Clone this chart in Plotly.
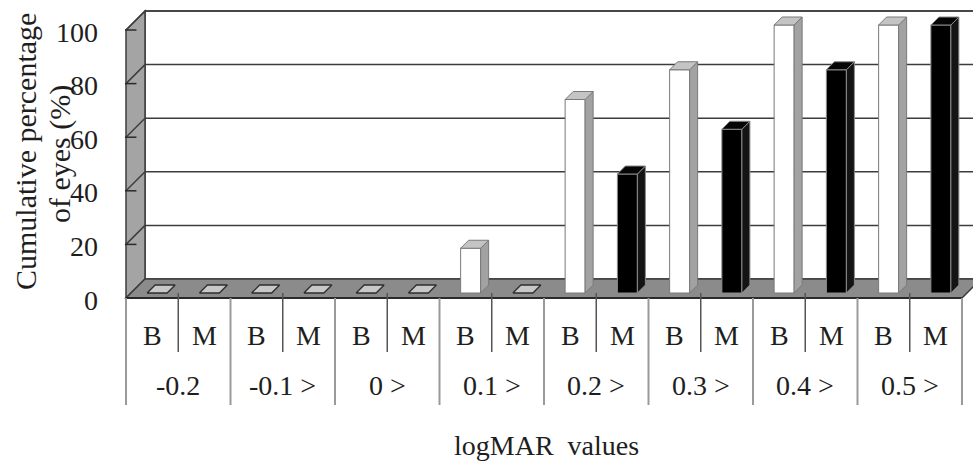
import plotly.graph_objects as go

# ---- data -------------------------------------------------------------
groups = ["-0.2", "-0.1 >", "0 >", "0.1 >", "0.2 >", "0.3 >", "0.4 >", "0.5 >"]
series_names = ["B", "M"]
b_values = [0, 0, 0, 16.7, 72.2, 83.3, 100, 100]
m_values = [0, 0, 0, 0, 44.4, 61.1, 83.3, 100]
y_ticks = [0, 20, 40, 60, 80, 100]
y_max = 100
y_title_lines = ["Cumulative percentage", "of eyes (%)"]
x_title = "logMAR  values"

# ---- geometry of the pseudo-3D box (slot units on x, value units on y) --
W, H = 973, 462
X0, SLOT = 126, 52.25          # px of slot 0 and slot width
Y0, PXV = 298, 2.68            # px of value 0 and px per value unit
n_slots = len(groups) * len(series_names)

def dxs(px):
    return px / SLOT

def dyv(px):
    return px / PXV

DX, DY = dxs(19), dyv(19)      # full depth of the box
FDX, FDY = dxs(5), dyv(5)      # bar front offset inside the box
BDX, BDY = dxs(8), dyv(8)      # bar depth
BAR_W = dxs(20)

x_range = [-X0 / SLOT, (W - X0) / SLOT]
y_range = [(Y0 - H) / PXV, Y0 / PXV]

FONT = "Liberation Serif"
TXT = "#1e1e1e"
LINE = "#3c3c3c"

shapes = []

def poly(pts, fill, line_color=LINE, width=1.2):
    path = "M " + " L ".join(f"{x},{y}" for x, y in pts) + " Z"
    shapes.append(dict(type="path", path=path, xref="x", yref="y",
                       fillcolor=fill, line=dict(color=line_color, width=width),
                       layer="below"))

def seg(x0, y0, x1, y1, color=LINE, width=1.5):
    shapes.append(dict(type="line", x0=x0, y0=y0, x1=x1, y1=y1, xref="x", yref="y",
                       line=dict(color=color, width=width), layer="below"))

right = n_slots + DX + 1
# back wall
poly([(DX, DY), (DX, y_max + DY), (right, y_max + DY), (right, DY)], "white", LINE, 1.5)
# left side wall
poly([(0, 0), (0, y_max), (DX, y_max + DY), (DX, DY)], "#a4a4a4", LINE, 1.5)
# floor
poly([(0, 0), (n_slots, 0), (n_slots + DX, DY), (DX, DY)], "#8b8b8b", LINE, 1.5)
seg(0, 0, n_slots, 0, "#2a2a2a", 2)

# gridlines on the side and back walls, plus tick marks
for v in y_ticks[1:]:
    seg(0, v, DX, v + DY)
    seg(DX, v + DY, right, v + DY)
for v in y_ticks:
    seg(-0.02, v, 0.2, v, "#2a2a2a", 1.5)

# category table under the floor
for i in range(0, n_slots + 1):
    if i % 2 == 0:
        seg(i, 0, i, dyv(-107), "#9a9a9a", 2)
    else:
        seg(i, dyv(5), i, dyv(-54), "#555555", 1.5)

# ---- bars ---------------------------------------------------------------
traces = []
style = {
    "B": dict(front="white", top="#c4c4c4", side="#a2a2a2", edge="#7a7a7a"),
    "M": dict(front="black", top="#050505", side="#141414", edge="#8a8a8a"),
}
SLAB = "#c8c8c8"

slab_x, slab_y = [], []
for s, (name, vals) in enumerate(zip(series_names, [b_values, m_values])):
    st = style[name]
    centers = [2 * g + s + 0.5 + FDX for g in range(len(groups))]
    traces.append(go.Bar(x=centers, y=vals, base=FDY, width=BAR_W,
                         marker=dict(color=st["front"], line=dict(color=st["edge"], width=1)),
                         name=name, showlegend=False, hoverinfo="skip"))
    tx, ty, sx, sy = [], [], [], []
    for c, v in zip(centers, vals):
        L, R = c - BAR_W / 2, c + BAR_W / 2
        top = FDY + v
        face = [(L, top), (R, top), (R + BDX, top + BDY), (L + BDX, top + BDY), (L, top)]
        if v == 0:
            for p in face:
                slab_x.append(p[0]); slab_y.append(p[1])
            slab_x.append(None); slab_y.append(None)
            continue
        for p in face:
            tx.append(p[0]); ty.append(p[1])
        tx.append(None); ty.append(None)
        side = [(R, FDY), (R, top), (R + BDX, top + BDY), (R + BDX, FDY + BDY), (R, FDY)]
        for p in side:
            sx.append(p[0]); sy.append(p[1])
        sx.append(None); sy.append(None)
    traces.append(go.Scatter(x=sx, y=sy, mode="lines", fill="toself", fillcolor=st["side"],
                             line=dict(color=st["edge"], width=1), showlegend=False,
                             hoverinfo="skip"))
    traces.append(go.Scatter(x=tx, y=ty, mode="lines", fill="toself", fillcolor=st["top"],
                             line=dict(color=st["edge"], width=1), showlegend=False,
                             hoverinfo="skip"))

traces.append(go.Scatter(x=slab_x, y=slab_y, mode="lines", fill="toself", fillcolor=SLAB,
                         line=dict(color="#2e2e2e", width=1.3), showlegend=False,
                         hoverinfo="skip"))

fig = go.Figure(traces)

# ---- text ---------------------------------------------------------------
ann = []
for v in y_ticks:
    ann.append(dict(x=dxs(100 - X0), y=v + dyv(-2), text=str(v), xanchor="right",
                    yanchor="middle", showarrow=False))
for g, label in enumerate(groups):
    for s, name in enumerate(series_names):
        ann.append(dict(x=2 * g + s + 0.5, y=dyv(-37), text=name, showarrow=False,
                        xanchor="center", yanchor="middle"))
    ann.append(dict(x=2 * g + 1, y=dyv(-87), text=label, showarrow=False,
                    xanchor="center", yanchor="middle"))
ann.append(dict(x=dxs(546 - X0), y=dyv(-147), text=x_title, showarrow=False,
                xanchor="center", yanchor="middle"))
for k, (line_text, px) in enumerate(zip(y_title_lines, [25, 60])):
    ann.append(dict(x=dxs(px - X0), y=dyv(146 if k == 0 else 144), text=line_text,
                    textangle=-90, showarrow=False, xanchor="center", yanchor="middle",
                    font=dict(size=30)))

fig.update_layout(
    width=W, height=H,
    margin=dict(l=0, r=0, t=0, b=0),
    paper_bgcolor="white", plot_bgcolor="white",
    font=dict(family=FONT, size=28, color=TXT),
    xaxis=dict(range=x_range, visible=False, fixedrange=True),
    yaxis=dict(range=y_range, visible=False, fixedrange=True),
    shapes=shapes, annotations=ann, barmode="overlay", showlegend=False,
)

fig.write_html("out.html")
